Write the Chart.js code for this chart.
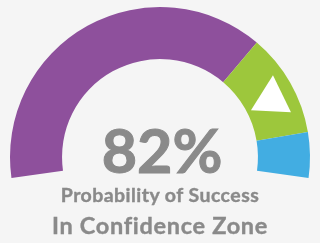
<!DOCTYPE html>
<html>
<head>
<meta charset="utf-8">
<script src="https://cdn.jsdelivr.net/npm/chart.js@4.4.0/dist/chart.umd.min.js"></script>
<style>
    html, body { margin: 0; padding: 0; background: #f5f5f5; }
    #wrap { position: relative; width: 320px; height: 243px; overflow: hidden; }
    #gauge { position: absolute; left: 0; top: 0; }
    .lbl {
        position: absolute; left: 0; width: 320px; text-align: center;
        color: #8a8a8a; font-family: Lato, sans-serif; font-weight: bold;
        line-height: 1; white-space: nowrap;
        -webkit-text-stroke: 0.4px #8a8a8a;
    }
</style>
</head>
<body>
<div id="wrap">
    <canvas id="gauge" width="320" height="243"></canvas>
    <div class="lbl" id="pct" style="top:119px;font-size:61px;left:2px;-webkit-text-stroke:1px #8a8a8a;"></div>
    <div class="lbl" id="sub" style="top:185px;font-size:19.5px;letter-spacing:0.45px;"></div>
    <div class="lbl" id="zone" style="top:214px;font-size:23.5px;letter-spacing:0.7px;"></div>
</div>
<script>
// zones of the gauge (percent of the dial)
const zoneLabels = ['Low', 'Confidence', 'High'];
const zoneValues = [70.5, 20.5, 9];
const zoneColors = ['#8e509c', '#9dc73c', '#42ade2'];

// pointer value
const probability = 82;
const subtitle = 'Probability of Success';
const zoneText = 'In Confidence Zone';

const ROTATION = -98;
const CIRCUMFERENCE = 196;

document.getElementById('pct').textContent = probability + '%';
document.getElementById('sub').textContent = subtitle;
document.getElementById('zone').textContent = zoneText;

// white triangle pointer sitting in the ring at the value's angle
const pointerPlugin = {
    id: 'pointer',
    afterDatasetsDraw(chart) {
        const arc = chart.getDatasetMeta(0).data[0];
        if (!arc) return;
        const total = zoneValues.reduce((a, b) => a + b, 0);
        const ang = (ROTATION - 90 + CIRCUMFERENCE * probability / total) * Math.PI / 180;
        const r = (arc.innerRadius + arc.outerRadius) / 2 + 2;
        const cx = arc.x + Math.cos(ang) * r;
        const cy = arc.y + Math.sin(ang) * r;
        const ctx = chart.ctx;
        ctx.save();
        ctx.fillStyle = '#ffffff';
        ctx.beginPath();
        ctx.moveTo(cx + 1, cy - 24);
        ctx.lineTo(cx + 19, cy + 13);
        ctx.lineTo(cx - 21, cy + 11);
        ctx.closePath();
        ctx.fill();
        ctx.restore();
    }
};

new Chart(document.getElementById('gauge'), {
    type: 'doughnut',
    data: {
        labels: zoneLabels,
        datasets: [{
            data: zoneValues,
            backgroundColor: zoneColors,
            borderWidth: 0,
            hoverOffset: 0
        }]
    },
    options: {
        responsive: false,
        animation: false,
        rotation: ROTATION,
        circumference: CIRCUMFERENCE,
        cutout: '65.3%',
        layout: {
            padding: { left: 10, right: 10, top: 7, bottom: 65 }
        },
        plugins: {
            legend: { display: false },
            tooltip: { enabled: false }
        }
    },
    plugins: [pointerPlugin]
});
</script>
</body>
</html>
